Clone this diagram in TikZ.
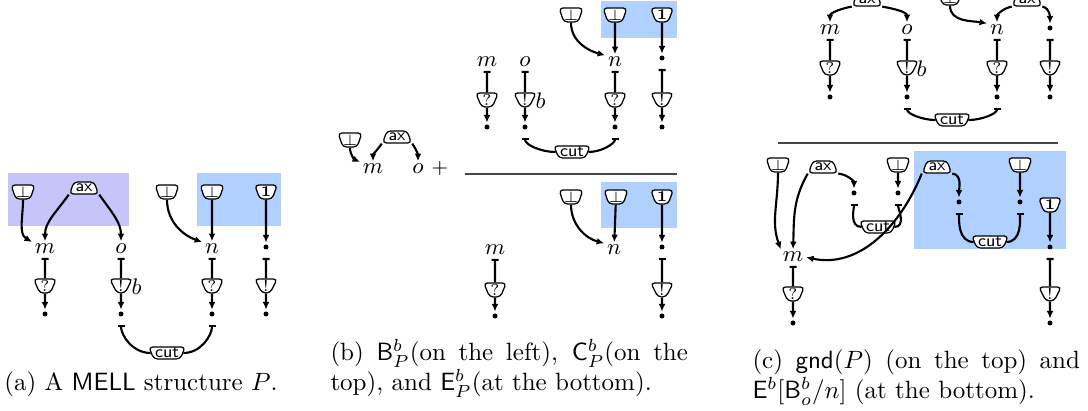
\documentclass[tikz,border=0pt]{standalone}
\usetikzlibrary{arrows.meta,shapes.geometric}
\definecolor{lav}{RGB}{199,196,250}
\definecolor{sky}{RGB}{176,208,255}
\definecolor{rulegray}{RGB}{70,70,70}
\tikzset{
  tab/.style={trapezium, shape border rotate=180, trapezium angle=66,
    trapezium stretches=true, minimum width=9pt, minimum height=5.6pt,
    draw, line width=0.5pt, rounded corners=1.5pt, fill=white, inner sep=0pt,
    font=\fontsize{6.3}{6.3}\selectfont},
  axn/.style={trapezium, trapezium angle=66, trapezium stretches=true,
    minimum width=11.5pt, minimum height=4.8pt,
    draw, line width=0.5pt, rounded corners=1.5pt, fill=white, inner sep=0pt,
    font=\sffamily\fontsize{6.8}{6.8}\selectfont},
  cutn/.style={trapezium, shape border rotate=180, trapezium angle=66,
    trapezium stretches=true, minimum width=14.5pt, minimum height=4.8pt,
    draw, line width=0.5pt, rounded corners=1.5pt, fill=white, inner sep=0pt,
    font=\sffamily\fontsize{6.8}{6.8}\selectfont},
  lab/.style={inner sep=0.4pt, font=\fontsize{9.5}{11}\selectfont},
  dot/.style={circle, fill, inner sep=0pt, minimum size=2pt},
  wire/.style={line width=0.85pt},
  arr/.style={wire, -{Latex[length=3pt,width=2.7pt]}, shorten >=0.6pt},
  barw/.style={wire, {Bar[width=2.8pt]}-, shorten <=1pt},
  fromdot/.style={wire, {Bar[width=2.8pt]}-, shorten <=3.2pt},
  rulec/.style={draw=rulegray, line width=0.5pt},
  capt/.style={inner sep=0pt, font=\fontsize{10}{12}\selectfont}
}
\begin{document}
\begin{tikzpicture}[x=0.4pt,y=0.4pt]
\useasboundingbox (0,0) rectangle (1088,-411);
\clip (0,0) rectangle (1088,-411);

% ---------------- (a) the structure P ----------------
\fill[lav] (8,-173) rectangle (129,-226);
\fill[sky] (197,-173) rectangle (281,-226);
\node[tab] (aB1) at (23,-192) {$\bot$};
\node[axn] (aAx) at (84,-188) {ax};
\node[tab] (aB2) at (167,-192) {$\bot$};
\node[tab] (aB3) at (212,-192) {$\bot$};
\node[tab] (aOne) at (266,-192) {$\mathbf{1}$};
\node[lab] (am) at (45,-249) {$m$};
\node[lab] (ao) at (121,-249) {$o$};
\node[lab] (an) at (212,-249) {$n$};
\node[dot] (aD4) at (266,-247) {};
\node[tab] (aQ1) at (45,-286) {?};
\node[tab] (aE2) at (121,-286) {!};
\node[lab, anchor=west] (ab) at (130,-287) {$b$};
\node[tab] (aQ3) at (212,-286) {?};
\node[tab] (aE4) at (266,-286) {!};
\node[dot] (aF1) at (45,-314) {};
\node[dot] (aF2) at (121,-314) {};
\node[dot] (aF3) at (212,-314) {};
\node[dot] (aF4) at (266,-314) {};
\node[cutn] (aCut) at (167,-353) {cut};

\draw[arr] (aB1.south) to[out=-90,in=150] (am.north west);
\draw[arr] (aAx.bottom left corner) to[out=-125,in=90] (am.north);
\draw[arr] (aAx.bottom right corner) to[out=-55,in=90] (ao.north);
\draw[arr] (aB2.south) to[out=-90,in=160] (an.north west);
\draw[arr] (aB3) -- (an);
\draw[arr] (aOne) -- (aD4);
\draw[barw] (am) -- (aQ1);
\draw[barw] (ao) -- (aE2);
\draw[barw] (an) -- (aQ3);
\draw[fromdot] (aD4) -- (aE4);
\draw[arr] (aQ1) -- (aF1);
\draw[arr] (aE2) -- (aF2);
\draw[arr] (aQ3) -- (aF3);
\draw[arr] (aE4) -- (aF4);
\draw[fromdot] (aF2) to[out=-90,in=180] (aCut.west);
\draw[fromdot] (aF3) to[out=-90,in=0] (aCut.east);

% ---------------- (b) left part ----------------
\node[tab] (bB0) at (350,-140) {$\bot$};
\node[axn] (bAx) at (397,-137) {ax};
\node[lab] (bm0) at (373,-169) {$m$};
\node[lab] (bo0) at (418,-169) {$o$};
\node[lab, font=\fontsize{8}{9}\selectfont] (bplus) at (440,-169) {$+$};
\draw[arr] (bB0.south) to[out=-90,in=155] (bm0.north west);
\draw[arr] (bAx.bottom left corner) to[out=-125,in=90] (bm0.north);
\draw[arr] (bAx.bottom right corner) to[out=-55,in=90] (bo0.north);
\draw[rulec] (465,-174) -- (677,-174);

% ---------------- (b) top ----------------
\fill[sky] (601,-1) rectangle (677,-38);
\node[tab] (bB1) at (571,-15) {$\bot$};
\node[tab] (bB2) at (615,-15) {$\bot$};
\node[tab] (bOne) at (662,-15) {$\mathbf{1}$};
\node[lab] (bm) at (487,-62) {$m$};
\node[lab] (bo) at (525,-62) {$o$};
\node[lab] (bn) at (615,-62) {$n$};
\node[dot] (bD4) at (662,-58) {};
\node[tab] (bQ1) at (487,-100) {?};
\node[tab] (bE2) at (525,-100) {!};
\node[lab, anchor=west] (bb) at (534,-101) {$b$};
\node[tab] (bQ3) at (615,-100) {?};
\node[tab] (bE4) at (662,-100) {!};
\node[dot] (bF1) at (487,-127) {};
\node[dot] (bF2) at (525,-127) {};
\node[dot] (bF3) at (615,-127) {};
\node[dot] (bF4) at (662,-127) {};
\node[cutn] (bCut) at (572,-152) {cut};
\draw[arr] (bB1.south) to[out=-90,in=165] (bn.north west);
\draw[arr] (bB2) -- (bn);
\draw[arr] (bOne) -- (bD4);
\draw[barw] (bm) -- (bQ1);
\draw[barw] (bo) -- (bE2);
\draw[barw] (bn) -- (bQ3);
\draw[fromdot] (bD4) -- (bE4);
\draw[arr] (bQ1) -- (bF1);
\draw[arr] (bE2) -- (bF2);
\draw[arr] (bQ3) -- (bF3);
\draw[arr] (bE4) -- (bF4);
\draw[fromdot] (bF2) to[out=-90,in=180] (bCut.west);
\draw[fromdot] (bF3) to[out=-90,in=0] (bCut.east);

% ---------------- (b) bottom ----------------
\fill[sky] (601,-182) rectangle (677,-228);
\node[tab] (eB1) at (571,-197) {$\bot$};
\node[tab] (eB2) at (616,-197) {$\bot$};
\node[tab] (eOne) at (662,-197) {$\mathbf{1}$};
\node[lab] (en) at (614,-250) {$n$};
\node[dot] (eD4) at (662,-247) {};
\node[lab] (em) at (495,-250) {$m$};
\node[tab] (eQ1) at (495,-290) {?};
\node[dot] (eF1) at (495,-316) {};
\node[tab] (eE4) at (662,-290) {!};
\node[dot] (eF4) at (662,-316) {};
\draw[arr] (eB1.south) to[out=-90,in=165] (en.north west);
\draw[arr] (eB2) -- (en);
\draw[arr] (eOne) -- (eD4);
\draw[barw] (em) -- (eQ1);
\draw[arr] (eQ1) -- (eF1);
\draw[fromdot] (eD4) -- (eE4);
\draw[arr] (eE4) -- (eF4);

% ---------------- (c) top: gnd(P) ----------------
\node[axn] (gAx1) at (867,0) {ax};
\node[tab] (gB) at (950,2) {$\bot$};
\node[axn] (gAx2) at (1027,0) {ax};
\node[lab] (gm) at (830,-30) {$m$};
\node[lab] (go) at (907,-30) {$o$};
\node[lab] (gn) at (997,-30) {$n$};
\node[dot] (gD4) at (1050,-28) {};
\node[tab] (gQ1) at (830,-68) {?};
\node[tab] (gE2) at (907,-68) {!};
\node[lab, anchor=west] (gb) at (915,-69) {$b$};
\node[tab] (gQ3) at (997,-68) {?};
\node[tab] (gE4) at (1050,-68) {!};
\node[dot] (gF1) at (830,-97) {};
\node[dot] (gF2) at (907,-97) {};
\node[dot] (gF3) at (997,-97) {};
\node[dot] (gF4) at (1050,-97) {};
\node[cutn] (gCut) at (952,-120) {cut};
\draw[arr] (gAx1.bottom left corner) to[out=190,in=90] (gm.north);
\draw[arr] (gAx1.bottom right corner) to[out=-10,in=90] (go.north);
\draw[arr] (gB.south) to[out=-90,in=170] (gn.north west);
\draw[arr] (gAx2.bottom left corner) to[out=190,in=90] (gn.north);
\draw[arr] (gAx2.bottom right corner) to[out=-10,in=90] (gD4);
\draw[barw] (gm) -- (gQ1);
\draw[barw] (go) -- (gE2);
\draw[barw] (gn) -- (gQ3);
\draw[fromdot] (gD4) -- (gE4);
\draw[arr] (gQ1) -- (gF1);
\draw[arr] (gE2) -- (gF2);
\draw[arr] (gQ3) -- (gF3);
\draw[arr] (gE4) -- (gF4);
\draw[fromdot] (gF2) to[out=-90,in=180] (gCut.west);
\draw[fromdot] (gF3) to[out=-90,in=0] (gCut.east);

\draw[rulec] (778,-143) -- (1058,-143);

% ---------------- (c) bottom ----------------
\fill[sky] (914,-151) rectangle (1066,-249);
\node[tab] (hB1) at (778,-165) {$\bot$};
\node[axn] (hAx1) at (823,-167) {ax};
\node[tab] (hB2) at (898,-165) {$\bot$};
\node[axn] (hAx2) at (937,-167) {ax};
\node[tab] (hB3) at (1020,-165) {$\bot$};
\node[tab] (hOne) at (1050,-205) {$\mathbf{1}$};
\node[dot] (hD1) at (854,-193) {};
\node[dot] (hD2) at (898,-193) {};
\node[cutn] (hCut1) at (878,-227) {cut};
\node[dot] (hD3) at (959,-202) {};
\node[dot] (hD4) at (1020,-202) {};
\node[cutn] (hCut2) at (990,-242) {cut};
\node[dot] (hD5) at (1050,-247) {};
\node[lab] (hm) at (793,-257) {$m$};
\node[tab] (hQ) at (793,-294) {?};
\node[dot] (hF1) at (793,-323) {};
\node[tab] (hE) at (1050,-294) {!};
\node[dot] (hF2) at (1050,-323) {};
\draw[arr] (hB1.south) to[out=-90,in=110] (hm.north west);
\draw[arr] (hAx1.bottom left corner) to[out=-120,in=88] (hm.north);
\draw[arr] (hAx1.bottom right corner) to[out=-5,in=90] (hD1);
\draw[arr] (hB2) -- (hD2);
\draw[fromdot] (hD1) to[out=-90,in=180] (hCut1.west);
\draw[fromdot] (hD2) to[out=-90,in=0] (hCut1.east);
\draw[arr] (hAx2.bottom right corner) to[out=-5,in=90] (hD3);
\draw[arr] (hB3) -- (hD4);
\draw[fromdot] (hD3) to[out=-90,in=180] (hCut2.west);
\draw[fromdot] (hD4) to[out=-90,in=0] (hCut2.east);
\draw[arr] (hAx2.bottom left corner) to[out=-112,in=-12] (hm.east);
\draw[arr] (hOne) -- (hD5);
\draw[fromdot] (hD5) -- (hE);
\draw[barw] (hm) -- (hQ);
\draw[arr] (hQ) -- (hF1);
\draw[arr] (hE) -- (hF2);

% ---------------- captions ----------------
\node[capt, anchor=base] (capA) at (141,-391)
  {(a) A \textsf{MELL} structure $P$.};
\node[capt, anchor=base west] (capB) at (330,-361)
  {\parbox[t]{143pt}{(b) $\mathsf{B}^b_P$(on the left), $\mathsf{C}^b_P$(on the\linebreak
   top), and $\mathsf{E}^b_P$(at the bottom).}};
\node[capt, anchor=base west] (capC) at (752,-369)
  {\parbox[t]{131pt}{\baselineskip=10.8pt (c) $\mathsf{gnd}(P)$ (on the top) and\linebreak
   $\mathsf{E}^b[\mathsf{B}^b_o/n]$ (at the bottom).}};
\end{tikzpicture}
\end{document}
